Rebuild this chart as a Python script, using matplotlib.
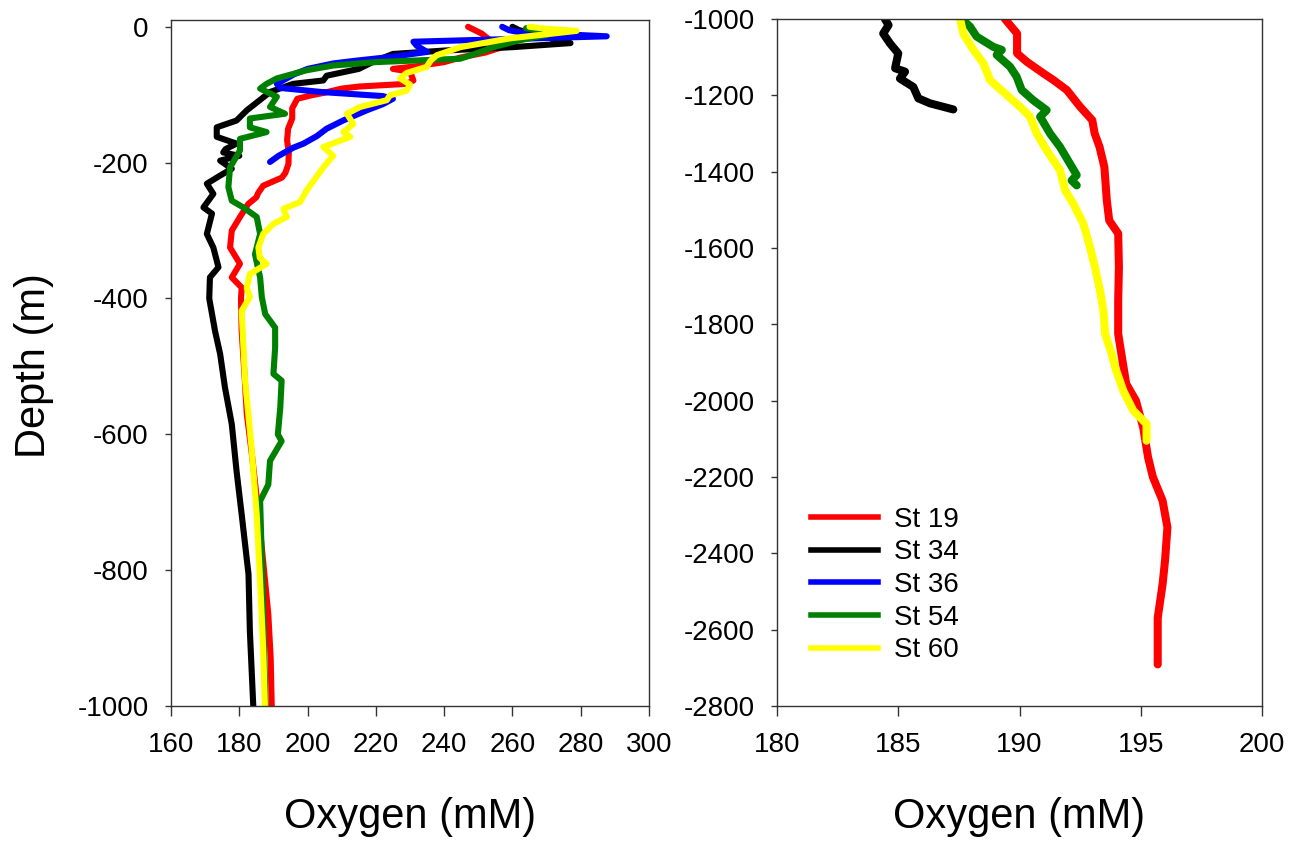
import matplotlib
matplotlib.use("Agg")
import matplotlib.pyplot as plt

plt.rcParams['font.family'] = ['Liberation Sans', 'DejaVu Sans']
plt.rcParams['axes.unicode_minus'] = False

# ---- upper 1000 m profiles (depth m, oxygen uM) ----
st19_d = [0, -10, -22, -30, -38, -45, -52, -58, -62, -66, -79, -84, -88, -91, -97, -101, -106,
          -120, -135, -150, -167, -185, -202, -215, -222, -234, -245, -251, -261, -280, -300,
          -325, -349, -369, -384, -400, -448, -510, -570, -630, -693, -767, -865, -930, -1000]
st19_o = [247, 251, 254, 257, 252, 245, 240, 232, 225, 230, 231, 229, 215, 210, 205, 201, 197,
          195.5, 195.5, 194.3, 194, 194.5, 194.4, 193.5, 192.5, 187, 185.5, 185, 182.6, 180.2, 177.8,
          177.3, 180.2, 177.8, 180.7, 180.5, 180.7, 181.5, 182.2, 183.7, 185.1, 186.6, 188.5, 189.2, 189.5]

st34_d = [0, -5, -24, -30, -35, -40, -52, -62, -72, -79, -84, -96, -108, -123, -138, -148, -162,
          -172, -180, -185, -190, -197, -209, -219, -231, -246, -266, -275, -305, -325, -354, -369,
          -400, -448, -482, -531, -585, -654, -718, -806, -890, -1000]
st34_o = [260, 262, 277, 260, 240, 225, 219, 215, 205.6, 204.6, 195.8, 189, 186, 182.2, 179.2, 173.4, 173.4,
          179.2, 176, 175.3, 180, 174.4, 177.8, 174.4, 170.5, 172.4, 169.5, 172, 170.5, 172.4, 173.9, 171.4,
          171.2, 172.9, 174.4, 175.8, 177.8, 179.2, 180.7, 182.7, 183.1, 184.1]

st36_d = [0, -5, -8, -14, -22, -28, -37, -44, -50, -54, -62, -70, -84, -90, -96, -102, -106, -114,
          -123, -138, -150, -161, -172, -178, -190, -199]
st36_o = [257, 259, 262, 287.6, 231, 232, 235, 225, 214, 207.5, 200, 196, 191, 192, 204, 222, 225, 222,
          217.3, 210.4, 205.6, 202.7, 198.8, 195.8, 191.5, 189]

st54_d = [-2, -6, -12, -20, -30, -40, -47, -52, -57, -64, -76, -84, -91, -103, -118, -128, -135, -148,
          -155, -165, -182, -207, -236, -256, -266, -280, -305, -335, -369, -398, -423, -443, -472,
          -511, -521, -561, -600, -610, -639, -674, -698, -800, -900, -1000]
st54_o = [264, 268, 270, 262, 254.4, 249, 244.7, 220, 207.5, 199.7, 191, 188, 186.1, 191, 189, 193.4, 183.1, 183.1,
          188, 180.2, 180.2, 177.3, 176.8, 177.8, 181.2, 185.1, 186.1, 184.6, 186.1, 186.6, 187.6, 190.5, 190.5,
          190, 192.4, 192, 191.3, 192.4, 189, 188.5, 186.1, 186.7, 187.2, 187.7]

st60_d = [0, -3, -6, -17, -30, -42, -50, -59, -68, -76, -85, -94, -101, -108, -118, -128, -143, -155,
          -162, -177, -190, -207, -241, -258, -268, -280, -290, -305, -325, -340, -349, -364, -384,
          -398, -418, -521, -620, -718, -816, -915, -1000]
st60_o = [265, 270, 278.8, 259.3, 244.7, 237.8, 236, 234.9, 229, 227.1, 230, 229, 224.1, 223.2, 215.4, 211.5, 213.4, 210.5,
          212.5, 204.6, 207.5, 204.6, 199.7, 197.8, 192.9, 193.9, 190, 187, 185.6, 186, 188, 183.1, 182.2,
          183.1, 180.7, 181.7, 183.6, 185.1, 186.1, 187, 187.5]

# ---- deep profiles below 1000 m ----
deep19_d = [-1000, -1038, -1090, -1112, -1143, -1160, -1186, -1230, -1265, -1300, -1335, -1388, -1475,
            -1528, -1562, -1650, -1737, -1825, -1877, -1956, -2000, -2070, -2148, -2200, -2262, -2332,
            -2420, -2481, -2569, -2630, -2691]
deep19_o = [189.4, 189.9, 189.9, 190.3, 191.0, 191.4, 191.95, 192.5, 193.0, 193.1, 193.3, 193.5, 193.6,
            193.7, 194.07, 194.1, 194.07, 194.07, 194.2, 194.4, 194.8, 195.1, 195.3, 195.5, 195.9, 196.1,
            196.0, 195.9, 195.7, 195.7, 195.7]

deep34_d = [-1000, -1016, -1038, -1064, -1090, -1129, -1138, -1156, -1178, -1208, -1221, -1237]
deep34_o = [184.45, 184.6, 184.38, 184.66, 185.0, 184.87, 185.28, 185.07, 185.62, 185.83, 186.31, 187.27]

deep54_d = [-1000, -1020, -1046, -1073, -1081, -1094, -1125, -1151, -1186, -1213, -1239, -1256, -1300,
            -1335, -1379, -1409, -1423, -1436]
deep54_o = [187.62, 187.96, 188.23, 188.92, 189.27, 189.06, 189.61, 189.88, 190.09, 190.57, 191.12, 190.85, 191.26,
            191.67, 192.08, 192.36, 192.15, 192.36]

deep60_d = [-1000, -1038, -1081, -1116, -1160, -1195, -1230, -1256, -1300, -1344, -1396, -1449, -1484,
            -1536, -1598, -1650, -1711, -1764, -1825, -1877, -1912, -1974, -2026, -2061, -2105]
deep60_o = [187.55, 187.68, 188.1, 188.51, 188.78, 189.4, 190.02, 190.43, 190.71, 191.12, 191.67, 191.88, 192.22,
            192.63, 192.91, 193.11, 193.32, 193.46, 193.53, 193.8, 193.94, 194.28, 194.69, 195.24, 195.24]

labels = ['St 19', 'St 34', 'St 36', 'St 54', 'St 60']
colors = ['#ff0000', '#000000', '#0000ff', '#008000', '#ffff00']

spine_col = '#333333'

fig = plt.figure(figsize=(12.95, 8.44), dpi=100)
W, H = 1295.0, 844.0
ax1 = fig.add_axes([171 / W, 1 - 706 / H, (649 - 171) / W, 686 / H])
ax2 = fig.add_axes([777 / W, 1 - 706 / H, (1262 - 777) / W, 687 / H])

# left panel: surface to 1000 m
shallow = [(st19_o, st19_d), (st34_o, st34_d), (st36_o, st36_d), (st54_o, st54_d), (st60_o, st60_d)]
for (o, d), c, lab in zip(shallow, colors, labels):
    ax1.plot(o, d, color=c, lw=4.4, solid_joinstyle='round', solid_capstyle='round', label=lab)
ax1.set_xlim(160, 300)
ax1.set_ylim(-1000, 10)
ax1.set_xticks(range(160, 301, 20))
ax1.set_yticks(range(-1000, 1, 200))

# right panel: 1000 m and deeper
deep = [(deep19_o, deep19_d, 0), (deep34_o, deep34_d, 1), (deep54_o, deep54_d, 3), (deep60_o, deep60_d, 4)]
for o, d, i in deep:
    ax2.plot(o, d, color=colors[i], lw=5.8, solid_joinstyle='round', solid_capstyle='round')
ax2.set_xlim(180, 200)
ax2.set_ylim(-2800, -1000)
ax2.set_xticks(range(180, 201, 5))
ax2.set_yticks(range(-2800, -999, 200))

for ax in (ax1, ax2):
    for s in ax.spines.values():
        s.set_color(spine_col)
        s.set_linewidth(1.0)
    ax.tick_params(axis='x', direction='out', length=7, width=1, pad=12, labelsize=20, colors=spine_col,
                   labelcolor='black')
    ax.tick_params(axis='y', direction='out', length=4, width=1, pad=12, labelsize=20, colors=spine_col,
                   labelcolor='black')
    ax.set_xlabel('Oxygen (mM)', fontsize=30, va='top')
    ax.xaxis.set_label_coords(0.5, -0.133)

fig.text(34 / W, 1 - 366 / H, 'Depth (m)', rotation=90, fontsize=30, ha='center', va='center')

# legend lives in the deep panel
handles = [plt.Line2D([], [], color=c, lw=4) for c in colors]
ax2.legend(handles, labels, loc='upper left', bbox_to_anchor=(0.07, 0.29), frameon=False,
           fontsize=20, handlelength=2.4, handletextpad=0.6, labelspacing=0.24, borderpad=0,
           borderaxespad=0)

fig.savefig('out.png', dpi=100)
